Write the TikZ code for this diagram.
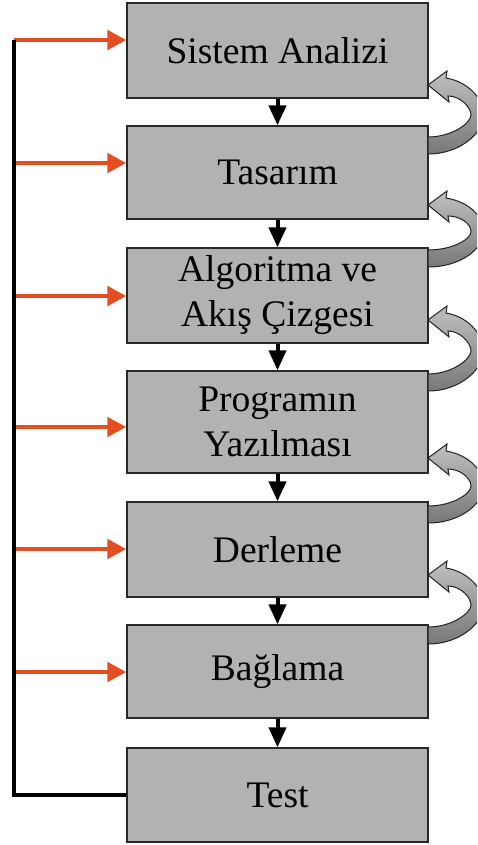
\documentclass[tikz,border=0pt]{standalone}
\usepackage{fontspec}
\setmainfont{Liberation Serif}
\usetikzlibrary{arrows.meta}

\definecolor{boxgray}{RGB}{178,178,178}
\definecolor{boxline}{RGB}{40,40,40}
\definecolor{feedred}{RGB}{228,78,34}
\definecolor{loophi}{RGB}{192,192,192}
\definecolor{looplo}{RGB}{120,120,120}
\definecolor{loopedge}{RGB}{35,35,35}

% Curved grey block arrow on the right: #1 = y of the tip, #2 = y of the tail
\newcommand\loopback[2]{%
  \pgfmathsetmacro\lbm{(#1+#2)/2}%
  \draw[loopline]
    (428,#1) -- (447,#1-14) -- (446,#1-7)
    .. controls (470,#1-3) and (484,\lbm-14) .. (484,\lbm)
    .. controls (484,\lbm+16) and (462,#2+9) .. (428,#2+9)
    -- (428,#2-8)
    .. controls (452,#2-8) and (471,\lbm+8) .. (471,\lbm)
    .. controls (471,\lbm-8) and (460,#1+11) .. (448,#1+11)
    -- (449,#1+17) -- cycle;
}

\begin{document}
\begin{tikzpicture}[x=1pt, y=-1pt,
  box/.style={draw=boxline, line width=1.3pt, fill=boxgray,
    minimum width=301pt, inner sep=0pt, align=center,
    font=\fontsize{37.5}{45}\selectfont},
  down/.style={line width=4pt, -{Triangle[length=20pt, width=17pt]}},
  feed/.style={draw=feedred, line width=4.8pt,
    -{Triangle[length=19pt, width=19pt, fill=feedred]}},
  spine/.style={line width=4.5pt, line join=miter},
  loopline/.style={draw=loopedge, line width=1pt,
    top color=loophi, bottom color=looplo}]

\useasboundingbox (0,0) rectangle (477,845);

% Process steps
\node[box, minimum height=95pt]  (s1) at (277.5,50.5)  {Sistem Analizi};
\node[box, minimum height=93pt]  (s2) at (277.5,172.5) {Tasarım};
\node[box, minimum height=95pt]  (s3) at (277.5,295.5) {Algoritma ve\\Akış Çizgesi};
\node[box, minimum height=102pt] (s4) at (277.5,422)   {Programın\\Yazılması};
\node[box, minimum height=95pt]  (s5) at (277.5,549.5) {Derleme};
\node[box, minimum height=93pt]  (s6) at (277.5,671.5) {Bağlama};
\node[box, minimum height=94pt]  (s7) at (277.5,795)   {Test};

% Forward flow
\foreach \a/\b in {s1/s2, s2/s3, s3/s4, s4/s5, s5/s6, s6/s7}
  \draw[down] (\a.south) -- (\b.north);

% Loops back to the previous step
\begin{scope}
  \clip (0,0) rectangle (477,845);
  \loopback{85}{145}
  \loopback{205}{258}
  \loopback{320}{382}
  \loopback{458}{514}
  \loopback{575}{635}
\end{scope}

% Feedback from testing to every step
\coordinate (fb1) at (14,40);
\coordinate (fb2) at (14,163);
\coordinate (fb3) at (14,296);
\coordinate (fb4) at (14,427);
\coordinate (fb5) at (14,549);
\coordinate (fb6) at (14,672);
\foreach \i in {1,...,6}
  \draw[feed] (fb\i) -- (fb\i -| s\i.west);

\draw[spine] (fb1) |- (s7.west);

\end{tikzpicture}
\end{document}
